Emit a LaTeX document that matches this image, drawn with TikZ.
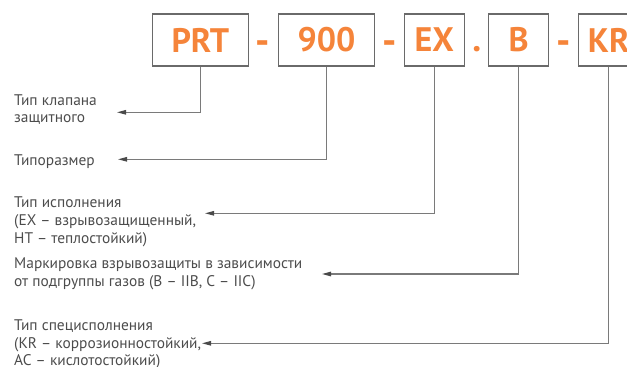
\documentclass[tikz,border=0pt]{standalone}
\usepackage{fontspec}
\setmainfont{PT Sans}
\usetikzlibrary{arrows.meta}
\definecolor{orng}{HTML}{F5843A}
\definecolor{boxgray}{HTML}{6A6A6A}
\definecolor{linegray}{HTML}{7A7A7A}
\definecolor{txtgray}{HTML}{4C4C4C}
\definecolor{tipgray}{HTML}{4A4A4A}
\tikzset{
  codebox/.style={draw=boxgray, line width=1.1pt, minimum height=52pt, inner sep=0pt,
    font=\fontsize{34}{34}\selectfont\bfseries, text=orng},
  sep/.style={font=\fontsize{40}{40}\selectfont\bfseries, text=orng, inner sep=0pt},
  dotsep/.style={font=\fontsize{36}{36}\selectfont\bfseries, text=orng, inner sep=0pt},
  desc/.style={anchor=west, align=left, inner sep=0pt, text=txtgray,
    font=\fontsize{15.4}{17.7}\selectfont},
  conn/.style={draw=linegray, line width=1.1pt,
    -{Triangle[length=9pt,width=4.5pt,color=tipgray]}}
}
\begin{document}
\begin{tikzpicture}[x=1pt,y=-1pt]
\useasboundingbox (0,0) rectangle (627,367);
\clip (0,0) rectangle (627,367);
% code boxes
\node[codebox, minimum width=96pt] (prt) at (200.3,40) {PRT};
\node[codebox, minimum width=96pt] (n900) at (326.5,40) {900};
\node[codebox, minimum width=60pt] (ex) at (434.3,40) {EX};
\node[codebox, minimum width=60pt] (b) at (518.7,40) {B};
\node[codebox, minimum width=60pt] (kr) at (608.7,40) {KR};
% separators
\node[sep] (s1) at (263,48) {-};
\node[sep] (s2) at (389.5,48) {-};
\node[dotsep] (s3) at (476.7,49.5) {.};
\node[sep] (s4) at (563.5,48) {-};
% descriptions
\node[desc] (t1) at (14,109.5) {Тип клапана\\защитного};
\node[desc] (t2) at (14,162) {Типоразмер};
\node[desc] (t3) at (14,222) {Тип исполнения\\(EX – взрывозащищенный,\\HT – теплостойкий)};
\node[desc] (t4) at (14,274) {Маркировка взрывозащиты в зависимости\\от подгруппы газов (B – IIB, C – IIC)};
\node[desc] (t5) at (14,344.5) {Тип специсполнения\\(KR – коррозионностойкий,\\AC – кислотостойкий)};
% arrow ends
\coordinate (a1) at (117,112.3);
\coordinate (a2) at (118,159.3);
\coordinate (a3) at (205,213.3);
\coordinate (a4) at (322,274);
\coordinate (a5) at (202,343.3);
% connectors
\draw[conn] (prt.south) |- (a1);
\draw[conn] (n900.south) |- (a2);
\draw[conn] (ex.south) |- (a3);
\draw[conn] (b.south) |- (a4);
\draw[conn] (kr.south) |- (a5);
\end{tikzpicture}
\end{document}
